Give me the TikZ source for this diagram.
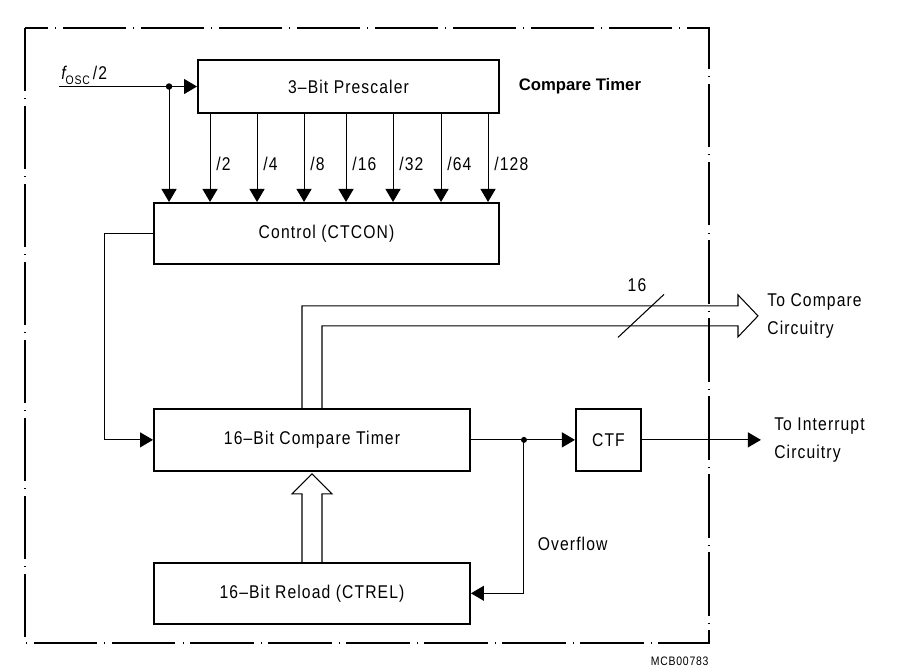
\documentclass[tikz,border=0pt]{standalone}
\usepackage{fontspec}
\setmainfont{Liberation Sans}[FakeStretch=0.85, LetterSpace=6]
\newfontfamily\headfont{Liberation Sans}
\usetikzlibrary{positioning,arrows.meta}

\begin{document}
\begin{tikzpicture}
            [node distance=2cm, line width=0.6pt, font=\fontsize{10.5}{16}\selectfont,
             block node/.style={draw, line width=1.1pt, minimum height=1.22cm, inner sep=0pt},
             arr/.style={-{Triangle[length=2.6mm,width=3mm]}},
             frame line/.style={dash pattern=on 36pt off 4pt on 0.4pt off 4pt}]
            \useasboundingbox (0,0) rectangle (18.46,-13.38);
            \draw[frame line] (0.5,-0.56) rectangle (14.18,-12.86);

            \node[block node, minimum width=6.02cm, minimum height=1.06cm] (pre) at (6.97,-1.73) {3--Bit Prescaler};
            \node[right=2.5mm of pre, font=\headfont\bfseries\fontsize{9.5}{12}\selectfont] (title) {Compare Timer};
            \node[block node, minimum width=6.9cm, below=1.76cm of pre.south east, anchor=north east] (ctl) {Control (CTCON)};
            \node[block node, minimum width=6.32cm, minimum height=1.24cm, below=2.86cm of ctl.south west, anchor=north west] (cmp) {16--Bit Compare Timer};
            \node[block node, minimum width=6.32cm, below=1.8cm of cmp.south west, anchor=north west] (rel) {16--Bit Reload (CTREL)};
            \node[block node, minimum width=1.3cm, minimum height=1.24cm, right=2.08cm of cmp] (ctf) {CTF};

            % clock input
            \coordinate[left=2.76cm of pre.west] (fin);
            \coordinate[left=0.56cm of pre.west] (tap);
            \node[anchor=south west, inner sep=1pt] (fosc) at (fin) {{\itshape f}\raisebox{-0.45ex}{\fontsize{7}{8}\selectfont OSC}\,/2};
            \draw[arr] (fin) -- (pre.west);
            \draw[arr] (tap) -- (tap |- ctl.north);
            \fill (tap) circle (0.65mm);

            % prescaler outputs
            \foreach \dx/\lbl in {0.26/2, 1.2/4, 2.14/8, 2.98/16, 3.92/32, 4.88/64, 5.82/128}
                \draw[arr] ([xshift=\dx cm]pre.south west) coordinate (t) -- (t |- ctl.north) node[pos=0.57, right] {/\lbl};

            \draw[arr] (ctl.west) -- ++(-0.98,0) |- (cmp.west);

            % 16 bit bus out
            \coordinate (busl) at ([xshift=-2mm]cmp.north);
            \coordinate (busr) at ([xshift=2mm]cmp.north);
            \draw (busl) -- ++(0,2.04) -- ++(8.72,0) -- ++(0,0.22) -- ++(0.4,-0.42) coordinate (bustip)
                -- ++(-0.4,-0.42) -- ++(0,0.22) -| (busr);
            \node[right=0.6mm of bustip, align=left] (cmpout) {To Compare\\Circuitry};
            \coordinate[left=2.34cm of bustip] (cut);
            \draw (cut) ++(-0.46,-0.43) -- ++(0.92,0.86) node[above, xshift=-5.4mm, inner sep=1pt] {16};

            % overflow
            \coordinate[right=1.06cm of cmp.east] (ovf);
            \draw[arr] (cmp.east) -- (ctf.west);
            \fill (ovf) circle (0.6mm);
            \draw[arr] (ovf) |- node[pos=0.34, right=1.5mm] {Overflow} (rel.east);
            \draw[arr] (ctf.east) -- ++(2.38,0) coordinate (irq);
            \node[right=1.4mm of irq, align=left] (irqtxt) {To Interrupt\\Circuitry};

            % reload bus
            \coordinate (rl) at ([xshift=-2mm]rel.north);
            \coordinate (rr) at ([xshift=2mm]rel.north);
            \draw (rl) -- ++(0,1.36) -- ++(-0.2,0) -- ++(0.4,0.4) -- ++(0.4,-0.4) -- ++(-0.2,0) -- (rr);

            \node[anchor=north east, inner sep=0pt, font=\fontsize{7}{8}\selectfont] (mcb) at (14.18,-13.12) {MCB00783};
         \end{tikzpicture}
\end{document}
